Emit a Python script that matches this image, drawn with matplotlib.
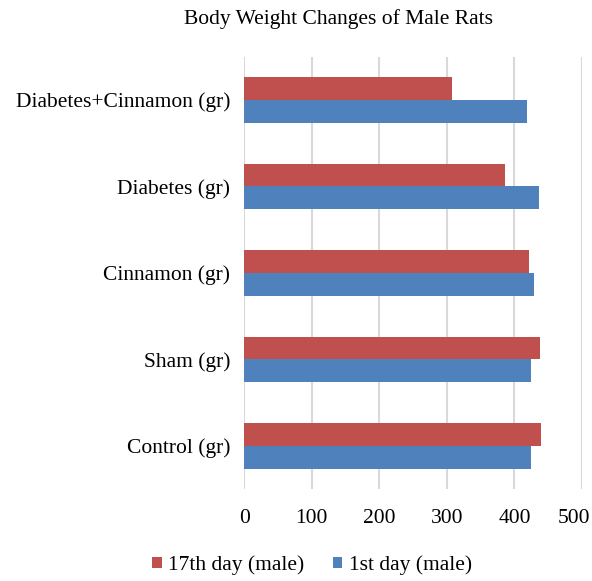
import numpy as np
import matplotlib
matplotlib.use("Agg")
import matplotlib.pyplot as plt
import matplotlib.transforms as mtransforms

plt.rcParams['font.family'] = ['Liberation Serif', 'DejaVu Serif']

categories = ['Control (gr)', 'Sham (gr)', 'Cinnamon (gr)', 'Diabetes (gr)', 'Diabetes+Cinnamon (gr)']
day17 = [440, 438, 421, 386, 308]
day1 = [425, 424, 429, 436, 418]
xticks = [0, 100, 200, 300, 400, 500]

red = '#C0504D'
blue = '#4F81BD'
fs = 15.5

fig = plt.figure(figsize=(5.92, 5.81), dpi=100)
ax = fig.add_axes([0.4127, 0.158, 0.5704, 0.7443])

y = np.arange(len(categories))
h = 0.262
ax.barh(y - h / 2, day1, height=h, color=blue, label='1st day (male)', zorder=3)
ax.barh(y + h / 2, day17, height=h, color=red, label='17th day (male)', zorder=3)

ax.set_xlim(0, 500)
ax.set_ylim(-0.5, len(categories) - 0.5)
ax.set_xticks(xticks)
ax.set_xticklabels([str(t) for t in xticks], fontsize=fs)
ax.set_yticks(y)
ax.set_yticklabels(categories, fontsize=fs)
ax.tick_params(axis='both', length=0)
ax.tick_params(axis='y', pad=10)
ax.tick_params(axis='x', pad=14)
ax.grid(axis='x', color='#d9d9d9', linewidth=1.5, zorder=0)
for s in ax.spines.values():
    s.set_visible(False)

# keep last tick label inside the picture
lab = ax.get_xticklabels()[-1]
lab.set_transform(lab.get_transform() + mtransforms.ScaledTranslation(-8 / 100, 0, fig.dpi_scale_trans))

fig.suptitle('Body Weight Changes of Male Rats', x=0.571, y=0.985, fontsize=fs)

handles, labels = ax.get_legend_handles_labels()
fig.legend(handles[::-1], labels[::-1], loc='center', bbox_to_anchor=(0.527, 0.027),
           ncol=2, frameon=False, fontsize=fs, handlelength=0.46, handleheight=0.46,
           handletextpad=0.3, columnspacing=1.3)

fig.savefig('out.png', dpi=100)
